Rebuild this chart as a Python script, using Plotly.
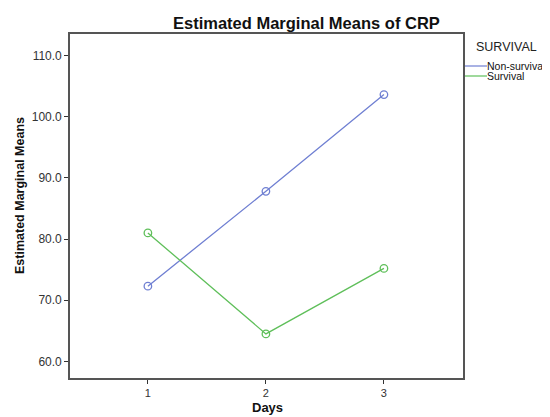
import plotly.graph_objects as go

days = [1, 2, 3]
day_labels = ["1", "2", "3"]
non_survival = [72.3, 87.8, 103.6]
survival = [81.0, 64.5, 75.2]
series_names = ["Non-surviva", "Survival"]
colors = ["#6f7fd2", "#5fbf5a"]
y_ticks = [60, 70, 80, 90, 100, 110]

fig = go.Figure()
for name, vals, c in zip(series_names, [non_survival, survival], colors):
    fig.add_trace(go.Scatter(
        x=days, y=vals, mode="lines+markers", name=name,
        line=dict(color=c, width=1.3),
        marker=dict(symbol="circle-open", size=7.5, color=c, line=dict(width=1.3, color=c)),
        showlegend=False,
    ))

OFF = 8  # page body margin
W, H = 542, 409
L, R, T, B = 70 - OFF, 87, 34 - OFF, 39
pw = W - L - R
ph = H - T - B

def px(xpage):
    return (xpage - OFF - L) / pw

def py(ypage):
    return 1 - (ypage - OFF - T) / ph

font = "Liberation Sans, Arial, sans-serif"
ann = [
    dict(text="<b>Estimated Marginal Means of CRP</b>", x=px(306), y=py(23), xref="paper", yref="paper",
         showarrow=False, font=dict(size=16.5, color="#111"), xanchor="center", yanchor="middle"),
    dict(text="<b>Estimated Marginal Means</b>", x=px(20), y=py(196), xref="paper", yref="paper",
         showarrow=False, textangle=-90, font=dict(size=12.5, color="#111"),
         xanchor="center", yanchor="middle"),
    dict(text="<b>Days</b>", x=px(267), y=py(407), xref="paper", yref="paper",
         showarrow=False, font=dict(size=13, color="#111"), xanchor="center", yanchor="middle"),
    dict(text="SURVIVAL", x=px(474), y=py(47), xref="paper", yref="paper",
         showarrow=False, font=dict(size=12.5, color="#222"), xanchor="left", yanchor="middle"),
]
shapes = []
for i, (name, c) in enumerate(zip(series_names, colors)):
    yy = 66 + i * 10
    ann.append(dict(text=name, x=px(485), y=py(yy), xref="paper", yref="paper",
                    showarrow=False, font=dict(size=10.5, color="#111"), xanchor="left", yanchor="middle"))
    shapes.append(dict(type="line", xref="paper", yref="paper", x0=px(465), x1=px(487),
                       y0=py(yy), y1=py(yy), line=dict(color=c, width=1.2)))

fig.update_layout(
    width=W, height=H,
    margin=dict(l=L, r=R, t=T, b=B, autoexpand=False),
    paper_bgcolor="white", plot_bgcolor="white",
    font=dict(family=font, size=11, color="#222"),
    annotations=ann, shapes=shapes,
    showlegend=False,
)
fig.update_xaxes(
    range=[0.34, 3.67], tickvals=days, ticktext=day_labels,
    showline=True, linecolor="#555", linewidth=1.6, mirror=True,
    ticks="outside", ticklen=4, tickcolor="#333", showgrid=False, zeroline=False,
    tickfont=dict(size=11, color="#333"),
)
fig.update_yaxes(
    range=[57.3, 113.5], tickvals=y_ticks, tickformat=".1f",
    showline=True, linecolor="#555", linewidth=1.6, mirror=True,
    ticks="outside", ticklen=4, tickcolor="#333", showgrid=False, zeroline=False,
    tickfont=dict(size=12, color="#333"),
)
fig.write_html("out.html")
